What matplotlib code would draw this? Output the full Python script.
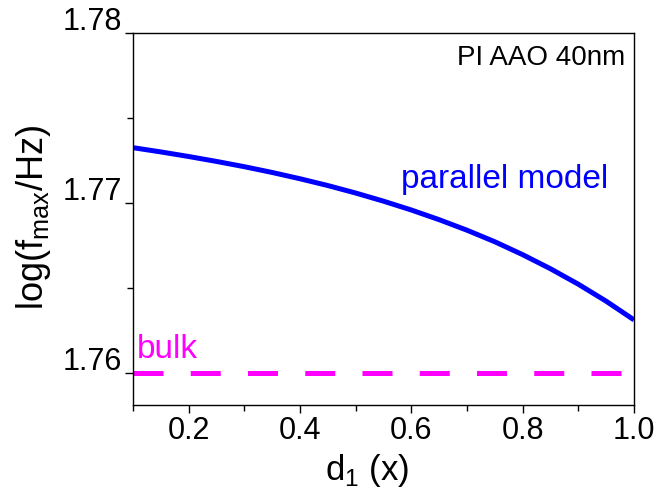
import matplotlib
matplotlib.use("Agg")
import matplotlib.pyplot as plt
from matplotlib.ticker import MultipleLocator
from matplotlib.transforms import ScaledTranslation

# values
d1 = [0.10, 0.15, 0.20, 0.25, 0.30, 0.35, 0.40, 0.45, 0.50, 0.55,
      0.60, 0.65, 0.70, 0.75, 0.80, 0.85, 0.90, 0.95, 1.00]
log_fmax_parallel = [1.77325, 1.77300, 1.77273, 1.77244, 1.77213, 1.77179, 1.77142, 1.77102, 1.77058, 1.77010,
                     1.76958, 1.76901, 1.76839, 1.76771, 1.76695, 1.76612, 1.76521, 1.76421, 1.76311]
bulk_x = [0.1, 1.0]
bulk_y = [1.76, 1.76]

plt.rcParams["font.family"] = ["Liberation Sans", "DejaVu Sans"]
plt.rcParams["mathtext.fontset"] = "custom"
plt.rcParams["mathtext.rm"] = "Liberation Sans"

fig = plt.figure(figsize=(6.56, 4.95), dpi=100)
ax = fig.add_axes([0.2027, 0.1818, 0.7638, 0.7515])

ax.plot(d1, log_fmax_parallel, color="#0000FF", lw=3.6, solid_capstyle="butt", solid_joinstyle="round")
ax.plot(bulk_x, bulk_y, color="#FF00FF", lw=3.6, dashes=(6.0, 5.45), dash_capstyle="butt")

ax.set_xlim(0.1, 1.0)
ax.set_ylim(1.7581, 1.78)
ax.xaxis.set_minor_locator(MultipleLocator(0.1))
ax.yaxis.set_minor_locator(MultipleLocator(0.005))
ax.set_xticks([0.2, 0.4, 0.6, 0.8, 1.0])
ax.set_xticklabels(["0.2", "0.4", "0.6", "0.8", "1.0"])
ax.set_yticks([1.76, 1.77, 1.78])
ax.set_yticklabels(["1.76", "1.77", "1.78"])

ax.tick_params(which="both", direction="out", top=False, right=False, width=1.0, labelsize=22)
ax.tick_params(which="major", length=6, pad=2)
ax.tick_params(which="minor", length=4)
for s in ax.spines.values():
    s.set_linewidth(1.0)

# y tick labels sit just above their ticks (Origin style)
for t in ax.yaxis.get_major_ticks():
    t.label1.set_verticalalignment("baseline")
    t.label1.set_transform(t.label1.get_transform() + ScaledTranslation(0, 3 / 100, fig.dpi_scale_trans))

ax.set_xlabel(r"d$_\mathregular{1}$ (x)", fontsize=25, va="baseline")
ax.xaxis.set_label_coords(0.468, -0.2016)
ax.set_ylabel(r"log(f$_\mathregular{max}$/Hz)", fontsize=26, va="baseline")
ax.yaxis.set_label_coords(-0.1796, 0.505)

ax.text(0.982, 0.914, "PI AAO 40nm", transform=ax.transAxes, ha="right", va="baseline", fontsize=20)
ax.text(0.953, 1.7709, "parallel model", color="#0000FF", ha="right", va="baseline", fontsize=24)
ax.text(0.107, 1.76086, "bulk", color="#FF00FF", ha="left", va="baseline", fontsize=24)

fig.savefig("out.png", dpi=100)
